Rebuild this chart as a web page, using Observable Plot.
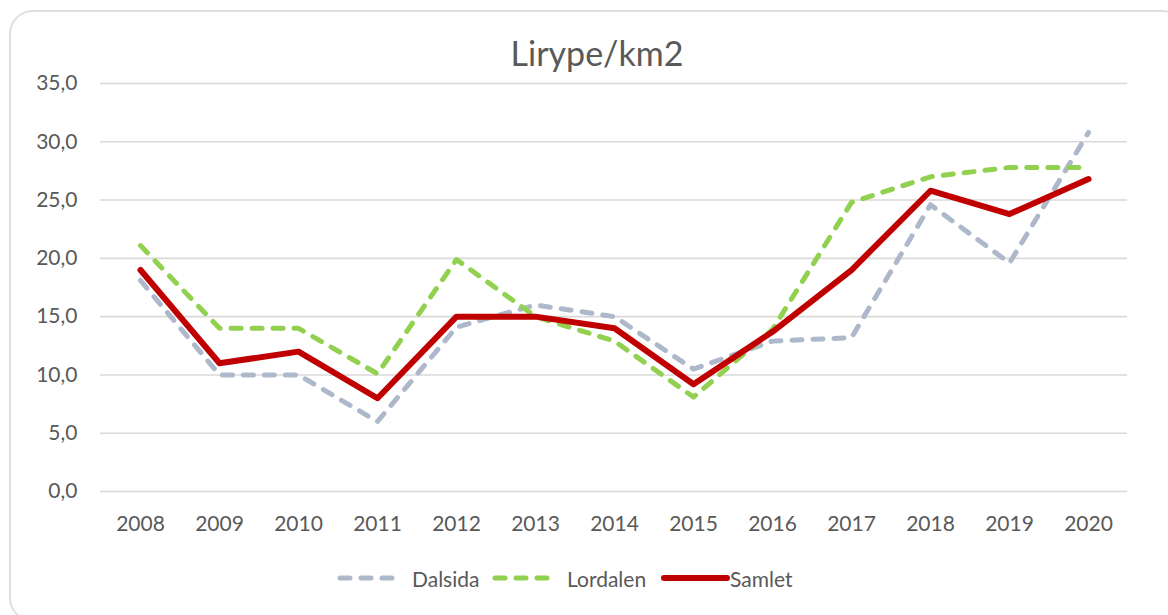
<!DOCTYPE html>
<html>
<head>
<meta charset="utf-8">
<script src="https://cdn.jsdelivr.net/npm/d3@7"></script>
<script src="https://cdn.jsdelivr.net/npm/@observablehq/plot@0.6"></script>
<style>
  html, body { margin: 0; padding: 0; background: #fff; overflow: hidden; }
  body { width: 1168px; height: 615px; position: relative; font-family: Lato, "Open Sans", sans-serif; color: #595959; }
  #frame { position: absolute; left: 9px; top: 10px; width: 1178px; height: 612px; border: 2px solid #e0e0e0; border-radius: 24px; box-sizing: border-box; }
  #title { position: absolute; left: 0; top: 30px; width: 1194px; text-align: center; font-size: 34px; line-height: 46px; }
  #chart { position: absolute; left: 0; top: 80px; }
  .leg { position: absolute; top: 566px; height: 24px; display: flex; align-items: center; font-size: 21px; }
  .leg svg { display: block; }
</style>
</head>
<body>
<div id="frame"></div>
<div id="title">Lirype/km2</div>
<div id="chart"></div>
<div id="legend"></div>
<script>
const years = ["2008","2009","2010","2011","2012","2013","2014","2015","2016","2017","2018","2019","2020"];
const dalsida  = [18.1, 10.0, 10.0, 6.0, 14.1, 16.0, 15.0, 10.5, 12.9, 13.2, 24.6, 19.6, 30.8];
const lordalen = [21.1, 14.0, 14.0, 10.1, 19.9, 15.0, 12.9, 8.1, 13.9, 24.8, 27.0, 27.8, 27.8];
const samlet   = [19.0, 11.0, 12.0, 8.0, 15.0, 15.0, 14.0, 9.2, 13.7, 19.0, 25.8, 23.8, 26.8];
const yTicks = [0, 5, 10, 15, 20, 25, 30, 35];

const seriesNames = ["Dalsida", "Lordalen", "Samlet"];
const seriesColors = ["#adb9ca", "#92d050", "#c00000"];
const seriesValues = [dalsida, lordalen, samlet];

const rows = s => years.map((yr, i) => ({year: yr, value: seriesValues[s][i]}));

const fmt = d => d.toFixed(1).replace(".", ",");

const plot = Plot.plot({
  width: 1168,
  height: 460,
  marginLeft: 100,
  marginRight: 41,
  marginTop: 3,
  marginBottom: 49,
  style: {fontFamily: "Lato, 'Open Sans', sans-serif", fontSize: "21px", color: "#595959", background: "transparent", overflow: "visible"},
  x: {type: "point", domain: years, padding: 0.5, label: null, tickSize: 0, tickPadding: 25},
  y: {domain: [0, 35], ticks: yTicks, tickFormat: fmt, label: null, tickSize: 0, tickPadding: 23},
  marks: [
    Plot.ruleY(yTicks, {stroke: "#d9d9d9", strokeWidth: 1.6}),
    Plot.line(rows(0), {x: "year", y: "value", stroke: seriesColors[0], strokeWidth: 5, strokeDasharray: "10,11", strokeLinecap: "round", strokeLinejoin: "round"}),
    Plot.line(rows(1), {x: "year", y: "value", stroke: seriesColors[1], strokeWidth: 5, strokeDasharray: "10,11", strokeLinecap: "round", strokeLinejoin: "round"}),
    Plot.line(rows(2), {x: "year", y: "value", stroke: seriesColors[2], strokeWidth: 6, strokeLinecap: "round", strokeLinejoin: "round"})
  ]
});
document.getElementById("chart").appendChild(plot);

// legend
const legend = d3.select("#legend");
const legLeft = [336, 491, 660];
const legDash = ["10,11", "10,11", null];
const legW = [5, 5, 6];
seriesNames.forEach((name, i) => {
  const item = legend.append("div").attr("class", "leg").style("left", legLeft[i] + "px");
  const svg = item.append("svg").attr("width", 70).attr("height", 24);
  const ln = svg.append("line")
    .attr("x1", 4).attr("x2", i === 2 ? 67 : 59).attr("y1", 12).attr("y2", 12)
    .attr("stroke", seriesColors[i]).attr("stroke-width", legW[i]).attr("stroke-linecap", "round");
  if (legDash[i]) ln.attr("stroke-dasharray", legDash[i]);
  item.append("span").text(name).style("margin-left", i === 2 ? "0px" : "6px");
});
</script>
</body>
</html>
